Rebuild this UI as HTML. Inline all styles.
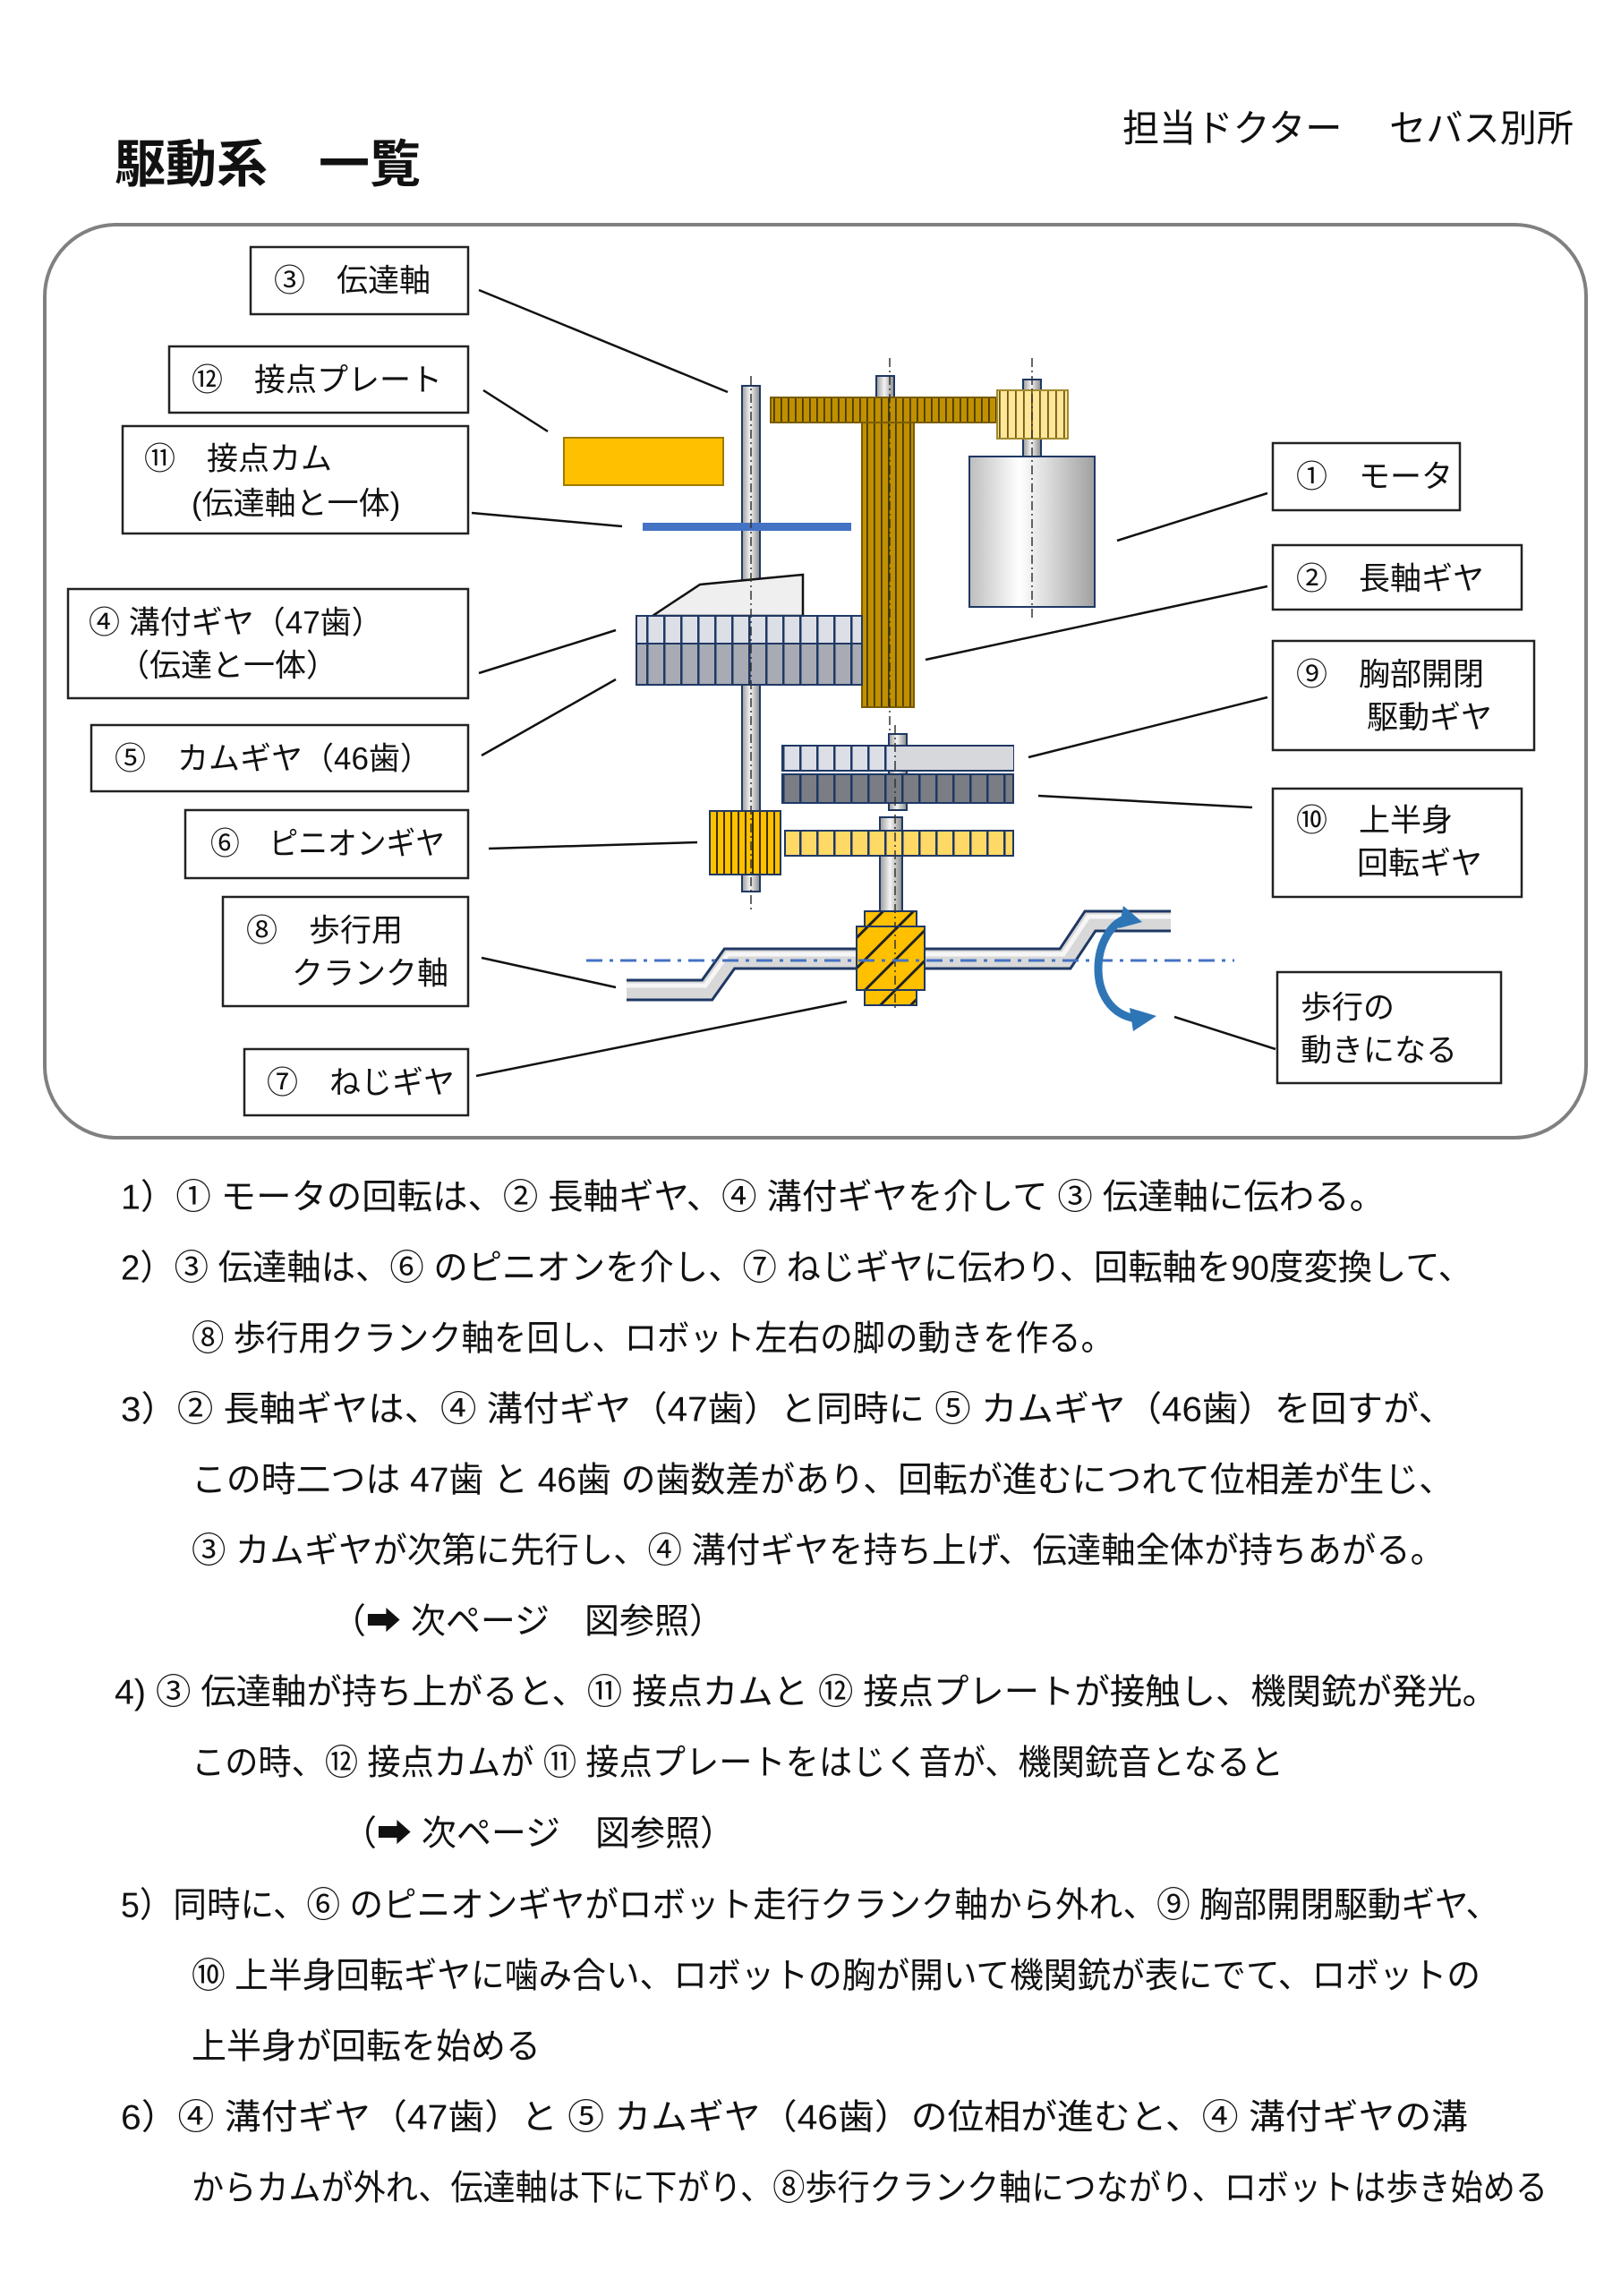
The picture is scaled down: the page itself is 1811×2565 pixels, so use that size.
<!DOCTYPE html>
<html><head><meta charset="utf-8"><style>
body{margin:0;background:#fff}
svg text{font-family:"Liberation Sans","Noto Sans CJK JP",sans-serif;fill:#111}
</style></head><body>
<svg width="1811" height="2560" viewBox="0 0 1811 2560" xmlns="http://www.w3.org/2000/svg">
<defs>
<linearGradient id="sh" x1="0" x2="1" y1="0" y2="0"><stop offset="0" stop-color="#9a9a9a"/><stop offset=".45" stop-color="#f4f4f4"/><stop offset="1" stop-color="#8a8a8a"/></linearGradient>
<linearGradient id="mot" x1="0" x2="1"><stop offset="0" stop-color="#bdbdbd"/><stop offset=".4" stop-color="#ffffff"/><stop offset="1" stop-color="#a0a0a0"/></linearGradient>
<pattern id="v1" width="19" height="10" patternUnits="userSpaceOnUse"><rect width="19" height="10" fill="#dcdfe6"/><rect width="2.5" height="10" fill="#1f3864"/></pattern>
<pattern id="v2" width="19" height="10" patternUnits="userSpaceOnUse"><rect width="19" height="10" fill="#a8abb3"/><rect width="2.5" height="10" fill="#1f3864"/></pattern>
<pattern id="v3" width="19" height="10" patternUnits="userSpaceOnUse"><rect width="19" height="10" fill="#7a7d84"/><rect width="2.5" height="10" fill="#1f3864"/></pattern>
<pattern id="vy" width="19" height="10" patternUnits="userSpaceOnUse"><rect width="19" height="10" fill="#ffd966"/><rect width="2.5" height="10" fill="#1f3864"/></pattern>
<pattern id="vg" width="8" height="10" patternUnits="userSpaceOnUse"><rect width="8" height="10" fill="#bf9000"/><rect width="1.8" height="10" fill="#4a3a00"/></pattern>
<pattern id="vg2" width="8" height="10" patternUnits="userSpaceOnUse"><rect width="8" height="10" fill="#ffc000"/><rect width="2" height="10" fill="#3a3000"/></pattern>
<pattern id="vly" width="9" height="10" patternUnits="userSpaceOnUse"><rect width="9" height="10" fill="#ffe699"/><rect width="1.8" height="10" fill="#6b5a10"/></pattern>
<pattern id="dg" width="24" height="24" patternUnits="userSpaceOnUse" patternTransform="rotate(45)"><rect width="24" height="24" fill="#ffc000"/><rect width="3" height="24" fill="#222"/></pattern>
</defs>

<text x="128" y="203" font-size="57" font-weight="bold">駆動系　一覧</text>
<text x="1254" y="158" font-size="42" textLength="504" lengthAdjust="spacingAndGlyphs">担当ドクター　 セバス別所</text>

<rect x="50" y="251" width="1722" height="1020" rx="80" fill="none" stroke="#808080" stroke-width="4"/>

<g stroke="#111" stroke-width="2.5">
<line x1="535" y1="324" x2="813" y2="438"/>
<line x1="540" y1="436" x2="612" y2="482"/>
<line x1="527" y1="573" x2="695" y2="588"/>
<line x1="535" y1="752" x2="688" y2="704"/>
<line x1="538" y1="844" x2="688" y2="759"/>
<line x1="546" y1="948" x2="779" y2="941"/>
<line x1="538" y1="1070" x2="688" y2="1103"/>
<line x1="532" y1="1202" x2="946" y2="1119"/>
<line x1="1248" y1="604" x2="1416" y2="551"/>
<line x1="1034" y1="737" x2="1416" y2="655"/>
<line x1="1149" y1="846" x2="1416" y2="779"/>
<line x1="1160" y1="889" x2="1399" y2="902"/>
<line x1="1312" y1="1136" x2="1425" y2="1172"/>
</g>

<g fill="#fff" stroke="#222" stroke-width="2.5">
<rect x="280" y="276" width="243" height="75"/>
<rect x="189" y="387" width="334" height="74"/>
<rect x="137" y="476" width="386" height="120"/>
<rect x="76" y="658" width="447" height="122"/>
<rect x="102" y="810" width="421" height="74"/>
<rect x="207" y="905" width="316" height="76"/>
<rect x="249" y="1002" width="274" height="122"/>
<rect x="273" y="1172" width="250" height="74"/>
<rect x="1422" y="495" width="209" height="75"/>
<rect x="1422" y="609" width="278" height="72"/>
<rect x="1422" y="716" width="292" height="122"/>
<rect x="1422" y="881" width="278" height="121"/>
<rect x="1427" y="1086" width="250" height="124"/>
</g>
<g font-size="35" dominant-baseline="central">
<text x="306" y="314">③　伝達軸</text>
<text x="214" y="425">⑫　接点プレート</text>
<text x="161" y="513">⑪　接点カム</text>
<text x="214" y="563">(伝達軸と一体)</text>
<text x="99" y="696">④ 溝付ギヤ（47歯）</text>
<text x="132" y="744">（伝達と一体）</text>
<text x="128" y="848">⑤　カムギヤ（46歯）</text>
<text x="235" y="943" textLength="262" lengthAdjust="spacingAndGlyphs">⑥　ピニオンギヤ</text>
<text x="275" y="1040">⑧　歩行用</text>
<text x="326" y="1088">クランク軸</text>
<text x="298" y="1210">⑦　ねじギヤ</text>
<text x="1448" y="533">①　モータ</text>
<text x="1448" y="647">②　長軸ギヤ</text>
<text x="1448" y="754">⑨　胸部開閉</text>
<text x="1527" y="802">駆動ギヤ</text>
<text x="1448" y="917">⑩　上半身</text>
<text x="1516" y="965">回転ギヤ</text>
<text x="1453" y="1126">歩行の</text>
<text x="1453" y="1174">動きになる</text>
</g>

<g stroke="#1f3864" stroke-width="2">
<rect x="829" y="431" width="20" height="565" fill="url(#sh)"/>
<rect x="630" y="489" width="178" height="53" fill="#ffc000" stroke="#a07a00"/>
<rect x="718" y="584" width="233" height="9" fill="#4472c4" stroke="none"/>
<rect x="979" y="420" width="20" height="26" fill="url(#sh)"/>
<rect x="861" y="444" width="267" height="28" fill="url(#vg)" stroke="#7a5c00"/>
<rect x="963" y="472" width="58" height="318" fill="url(#vg)" stroke="#7a5c00"/>
<rect x="1143" y="424" width="20" height="90" fill="url(#sh)"/>
<rect x="1114" y="436" width="79" height="54" fill="url(#vly)" stroke="#a08a30"/>
<rect x="1083" y="510" width="140" height="168" fill="url(#mot)"/>
<polygon points="729,688 782,653 897,642 897,688" fill="#efefef" stroke="#111" stroke-width="2.5"/>
<rect x="711" y="688" width="252" height="31" fill="url(#v1)"/>
<rect x="711" y="719" width="252" height="46" fill="url(#v2)"/>
<rect x="993" y="820" width="20" height="85" fill="url(#sh)"/>
<rect x="874" y="833" width="258" height="28" fill="url(#v1)"/>
<rect x="1000" y="834" width="132" height="26" fill="#d6d8dc" stroke="none"/>
<rect x="874" y="865" width="258" height="32" fill="url(#v3)"/>
<rect x="983" y="913" width="25" height="120" fill="url(#sh)"/>
<rect x="877" y="928" width="255" height="28" fill="url(#vy)"/>
<rect x="793" y="906" width="79" height="71" fill="url(#vg2)"/>
<path d="M700,1106 L790,1106 L815,1071 L1190,1071 L1218,1029 L1308,1029" fill="none" stroke="#1f3864" stroke-width="25"/>
<path d="M700,1106 L790,1106 L815,1071 L1190,1071 L1218,1029 L1308,1029" fill="none" stroke="#d8d8d8" stroke-width="19"/>
<path d="M700,1101 L788,1101 L813,1066 L1188,1066 L1216,1024 L1308,1024" fill="none" stroke="#f6f6f6" stroke-width="5"/>
<rect x="966" y="1018" width="58" height="105" fill="url(#dg)"/>
<rect x="957" y="1035" width="76" height="71" fill="url(#dg)"/>
</g>
<g stroke="#333" stroke-width="1.5" stroke-dasharray="10,4,2,4">
<line x1="839" y1="420" x2="839" y2="1020"/>
<line x1="994" y1="400" x2="994" y2="820"/>
<line x1="1153" y1="400" x2="1153" y2="690"/>
<line x1="1000" y1="810" x2="1000" y2="1130"/>
</g>
<line x1="655" y1="1073" x2="1379" y2="1073" stroke="#4472c4" stroke-width="3" stroke-dasharray="18,8,4,8"/>
<path d="M1262,1025 C1218,1035 1210,1130 1270,1138" fill="none" stroke="#2e75b6" stroke-width="9"/>
<path d="M1255,1012 L1276,1030 L1250,1037 Z" fill="#2e75b6"/>
<path d="M1262,1126 L1292,1135 L1266,1152 Z" fill="#2e75b6"/>

<g font-size="39" dominant-baseline="central">
<text x="135" y="1338" textLength="1412" lengthAdjust="spacingAndGlyphs">1）① モータの回転は、② 長軸ギヤ、④ 溝付ギヤを介して ③ 伝達軸に伝わる。</text>
<text x="135" y="1417" textLength="1510" lengthAdjust="spacingAndGlyphs">2）③ 伝達軸は、⑥ のピニオンを介し、⑦ ねじギヤに伝わり、回転軸を90度変換して、</text>
<text x="214" y="1496" textLength="1030" lengthAdjust="spacingAndGlyphs">⑧ 歩行用クランク軸を回し、ロボット左右の脚の動きを作る。</text>
<text x="135" y="1575" textLength="1490" lengthAdjust="spacingAndGlyphs">3）② 長軸ギヤは、④ 溝付ギヤ（47歯）と同時に ⑤ カムギヤ（46歯）を回すが、</text>
<text x="214" y="1654" textLength="1410" lengthAdjust="spacingAndGlyphs">この時二つは 47歯 と 46歯 の歯数差があり、回転が進むにつれて位相差が生じ、</text>
<text x="214" y="1733" textLength="1400" lengthAdjust="spacingAndGlyphs">③ カムギヤが次第に先行し、④ 溝付ギヤを持ち上げ、伝達軸全体が持ちあがる。</text>
<text x="370" y="1812">（➡ 次ページ　図参照）</text>
<text x="128" y="1891" textLength="1545" lengthAdjust="spacingAndGlyphs">4)  ③ 伝達軸が持ち上がると、⑪ 接点カムと ⑫ 接点プレートが接触し、機関銃が発光。</text>
<text x="214" y="1970" textLength="1220" lengthAdjust="spacingAndGlyphs">この時、⑫ 接点カムが ⑪ 接点プレートをはじく音が、機関銃音となると</text>
<text x="382" y="2049">（➡ 次ページ　図参照）</text>
<text x="135" y="2129" textLength="1540" lengthAdjust="spacingAndGlyphs">5）同時に、⑥ のピニオンギヤがロボット走行クランク軸から外れ、⑨ 胸部開閉駆動ギヤ、</text>
<text x="214" y="2208" textLength="1440" lengthAdjust="spacingAndGlyphs">⑩ 上半身回転ギヤに噛み合い、ロボットの胸が開いて機関銃が表にでて、ロボットの</text>
<text x="214" y="2287">上半身が回転を始める</text>
<text x="135" y="2366" textLength="1505" lengthAdjust="spacingAndGlyphs">6）④ 溝付ギヤ（47歯）と ⑤ カムギヤ（46歯）の位相が進むと、④ 溝付ギヤの溝</text>
<text x="214" y="2445" textLength="1515" lengthAdjust="spacingAndGlyphs">からカムが外れ、伝達軸は下に下がり、⑧歩行クランク軸につながり、ロボットは歩き始める</text>
</g>
</svg>
</body></html>
